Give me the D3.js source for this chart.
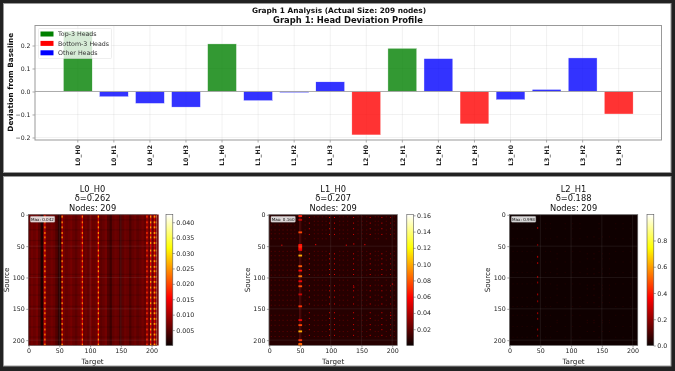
<!DOCTYPE html>
<html>
<head>
<meta charset="utf-8">
<script src="https://cdn.jsdelivr.net/npm/d3@7"></script>
<style>
  html, body { margin: 0; padding: 0; background: #222; overflow: hidden; }
  svg { display: block; filter: blur(0.5px); font-family: "DejaVu Sans", sans-serif; }
</style>
</head>
<body>
<script>
// bar chart values
const heads = ["L0_H0", "L0_H1", "L0_H2", "L0_H3", "L1_H0", "L1_H1", "L1_H2", "L1_H3",
               "L2_H0", "L2_H1", "L2_H2", "L2_H3", "L3_H0", "L3_H1", "L3_H2", "L3_H3"];
const deviations = [0.262, -0.023, -0.052, -0.068, 0.207, -0.040, -0.005, 0.042,
                    -0.189, 0.188, 0.143, -0.141, -0.036, 0.009, 0.146, -0.098];
const topHeads = ["L0_H0", "L1_H0", "L2_H1"];
const bottomHeads = ["L2_H0", "L2_H3", "L3_H3"];
const legendLabels = ["Top-3 Heads", "Bottom-3 Heads", "Other Heads"];
const devTicks = [-0.2, -0.1, 0.0, 0.1, 0.2];
const nodeTicks = [0, 50, 100, 150, 200];

// heatmap 1: one level for every 4 targets, then the bright columns and rows
const h0Bands = [.0055, .0065, .006, .0068, .005, .0012, .0065, .006, .0058, .0066, .006, .0045, .0022,
                 .0018, .0065, .0058, .0062, .0068, .0058, .0052, .0062, .0072, .0058, .0062, .0055, .0068,
                 .006, .0062, .0072, .0052, .0058, .0066, .0045, .0032, .0055, .0062, .0058, .0036, .0052,
                 .0062, .0058, .0042, .0056, .0062, .0052, .0058, .0066, .0056, .0078, .0056, .0068, .0062, .0066];
const h0HotCols = [[26, .0125], [54, .0125], [87, .0125], [113, .013], [192, .0095], [198, .014], [204, .013], [207, .011]];
const h0HotRows = [2, 11, 19, 28, 35, 44, 56, 64, 73, 82, 89, 98, 106, 115, 123, 131, 140, 149, 156, 165, 173, 182, 190, 198, 206];
const h0HotVals = [.024, .025, .023, .025, .019, .026, .026, .023];
const h0DimRows = [7, 23, 40, 52, 69, 94, 111, 127, 145, 161, 178, 194];

// heatmap 2: one strong column, weaker columns, scattered points
const h1Column = [[49, .014], [51, .014]];
const h1HotRows = [[1, .065], [7, .045], [27, .075], [47, .06], [49, .065], [51, .068], [53, .06], [55, .055], [64, .1], [81, .08],
                   [88, .06], [97, .085], [105, .055], [113, .075], [126, .045], [145, .07], [167, .055], [175, .075],
                   [185, .1], [199, .07], [205, .08], [207, .085]];
const h1SubCols = [[65, .058], [98, .064], [106, .06], [137, .058], [164, .055], [183, .058], [197, .04]];
const h1SubRows = [4, 13, 22, 31, 62, 70, 78, 87, 95, 113, 121, 131, 142, 156, 165, 175, 183, 192];
const h1TexCols = [3, 9, 16, 22, 29, 35, 41, 58, 73, 79, 86, 92, 114, 120, 127, 144, 151, 158, 172, 177, 190, 203];
const h1TexRows = [3, 10, 16, 24, 30, 38, 58, 65, 72, 80, 88, 96, 104, 112, 120, 128, 136, 144, 160, 168, 176, 186, 194];
const h1Points = [[20, 48], [75, 47], [125, 48], [137, 46], [155, 47], [137, 115], [200, 110], [197, 160]];

// heatmap 3: almost empty, a few dots around target 46
const h2HotRows = [[20, .2], [47, .15], [66, .22], [76, .2], [98, .2], [107, .18], [126, .2], [137, .18], [156, .2], [165, .17], [182, .2], [192, .15]];
const h2SubCols = [[77, .055], [126, .06], [137, .07], [151, .045], [162, .045]];
const h2SubRows = [35, 62, 70, 86, 94, 112, 118, 128, 140, 168, 172, 186];
const h2TexCols = [5, 12, 20, 28, 36, 58, 66, 90, 102, 114, 145, 172, 184, 196];
const h2TexRows = [14, 22, 38, 58, 75, 92, 110, 132, 146, 160, 178, 195];

const cbTicks0 = [0.005, 0.010, 0.015, 0.020, 0.025, 0.030, 0.035, 0.040];
const cbTicks1 = [0.02, 0.04, 0.06, 0.08, 0.10, 0.12, 0.14, 0.16];
const cbTicks2 = [0.0, 0.2, 0.4, 0.6, 0.8];

const width = 675;
const height = 371;
const ink = "#222";

const svg = d3.select("body").append("svg")
    .attr("width", width)
    .attr("height", height);

// dark page with two white panels
svg.append("rect").attr("width", width).attr("height", height).attr("fill", "#222");
svg.append("rect").attr("x", 3.5).attr("y", 3.5).attr("width", 667.5).attr("height", 169)
    .attr("fill", "#fff").attr("stroke", "#999");
svg.append("rect").attr("x", 3.5).attr("y", 176.5).attr("width", 667.5).attr("height", 189.5)
    .attr("fill", "#fff").attr("stroke", "#999");

svg.append("text").attr("x", 339).attr("y", 13)
    .attr("text-anchor", "middle").attr("font-weight", "bold").attr("font-size", 7.4).attr("fill", "#111")
    .text("Graph 1 Analysis (Actual Size: 209 nodes)");
svg.append("text").attr("x", 348).attr("y", 23)
    .attr("text-anchor", "middle").attr("font-weight", "bold").attr("font-size", 8.4).attr("fill", "#111")
    .text("Graph 1: Head Deviation Profile");

// ---------- bar chart ----------
const barLeft = 35, barRight = 661.5, barTop = 25.5, barBottom = 140;

const x = d3.scaleBand()
    .domain(heads)
    .range([barLeft, barRight])
    .paddingInner(0.2)
    .paddingOuter(0.787);

const y = d3.scaleLinear()
    .domain([-0.211, 0.287])
    .range([barBottom, barTop]);

const barColor = d => topHeads.includes(d) ? "green" : bottomHeads.includes(d) ? "red" : "blue";

const barGrid = svg.append("g").attr("stroke", "#b0b0b0").attr("stroke-opacity", 0.3).attr("stroke-width", 0.6);
barGrid.selectAll("line.v").data(heads).enter().append("line")
    .attr("x1", d => x(d) + x.bandwidth() / 2).attr("x2", d => x(d) + x.bandwidth() / 2)
    .attr("y1", barTop).attr("y2", barBottom);
barGrid.selectAll("line.h").data(devTicks).enter().append("line")
    .attr("x1", barLeft).attr("x2", barRight)
    .attr("y1", d => y(d)).attr("y2", d => y(d));

svg.selectAll("rect.bar")
    .data(heads)
    .enter()
    .append("rect")
    .attr("class", "bar")
    .attr("x", d => x(d))
    .attr("width", x.bandwidth())
    .attr("y", (d, i) => y(Math.max(0, deviations[i])))
    .attr("height", (d, i) => Math.abs(y(deviations[i]) - y(0)))
    .attr("fill", barColor)
    .attr("fill-opacity", 0.8)
    .attr("stroke", "#fff")
    .attr("stroke-width", 0.4);

svg.append("line").attr("x1", barLeft).attr("x2", barRight).attr("y1", y(0)).attr("y2", y(0))
    .attr("stroke", "#999").attr("stroke-width", 0.8);

const yAxisBar = svg.append("g")
    .attr("transform", `translate(${barLeft},0)`)
    .call(d3.axisLeft(y).tickValues(devTicks).tickSize(2.5).tickPadding(2)
        .tickFormat(d => d3.format(".1f")(d).replace("-", "\u2212")));
yAxisBar.selectAll("text").attr("font-size", 6.2).attr("fill", ink).attr("font-family", "DejaVu Sans");

const xAxisBar = svg.append("g")
    .attr("transform", `translate(0,${barBottom})`)
    .call(d3.axisBottom(x).tickSize(2.5));
xAxisBar.selectAll("text")
    .attr("font-size", 6.2).attr("font-weight", "bold").attr("fill", ink).attr("font-family", "DejaVu Sans")
    .attr("text-anchor", "end")
    .attr("transform", "rotate(-90)")
    .attr("x", -5)
    .attr("y", 0)
    .attr("dy", "0.35em");
[yAxisBar, xAxisBar].forEach(a => {
    a.select(".domain").remove();
    a.selectAll("line").attr("stroke", "#555").attr("stroke-width", 0.5);
});

svg.append("rect").attr("x", barLeft).attr("y", barTop)
    .attr("width", barRight - barLeft).attr("height", barBottom - barTop)
    .attr("fill", "none").attr("stroke", "#999").attr("stroke-width", 1);

svg.append("text")
    .attr("transform", `translate(12.5,${(barTop + barBottom) / 2 - 0.5}) rotate(-90)`)
    .attr("text-anchor", "middle").attr("font-weight", "bold").attr("font-size", 7.3).attr("fill", "#111")
    .text("Deviation from Baseline");

// legend
const legend = svg.append("g").attr("transform", "translate(38.5,28.5)");
legend.append("rect").attr("width", 73).attr("height", 30).attr("rx", 1)
    .attr("fill", "#fff").attr("fill-opacity", 0.8).attr("stroke", "#ddd").attr("stroke-width", 0.5);
legend.selectAll("rect.key").data(["green", "red", "blue"]).enter().append("rect")
    .attr("class", "key")
    .attr("x", 2).attr("y", (d, i) => 3 + i * 9.4)
    .attr("width", 13).attr("height", 5)
    .attr("fill", d => d);
legend.selectAll("text").data(legendLabels).enter().append("text")
    .attr("x", 19.5).attr("y", (d, i) => 7.8 + i * 9.4)
    .attr("font-size", 6.3).attr("fill", "#333")
    .text(d => d);

// ---------- heatmaps ----------
const hot = d3.scaleLinear()
    .domain([0, 0.365, 0.746, 1])
    .range(["#0b0000", "#ff0000", "#ffff00", "#ffffff"])
    .clamp(true);

function drawHeatmap(o) {
    const top = 214.5, bottom = 345.5;
    const hx = d3.scaleLinear().domain([-0.5, 208.5]).range([o.left, o.left + 128.5]);
    const hy = d3.scaleLinear().domain([-0.5, 208.5]).range([top, bottom]);
    const color = v => hot(v / o.max);
    const cw = hx(1) - hx(0);
    const ch = hy(1) - hy(0);
    const g = svg.append("g");

    const cell = (c, r, v, w = 1, h = 1) => g.append("rect")
        .attr("x", hx(c - 0.5)).attr("y", hy(r - 0.5))
        .attr("width", cw * w).attr("height", ch * h)
        .attr("fill", color(v));

    g.append("rect").attr("x", hx(-0.5)).attr("y", top)
        .attr("width", 128.5).attr("height", bottom - top)
        .attr("fill", color(o.base));

    (o.bands || []).forEach((v, i) => cell(i * 4, 0, v, 4, 209));
    (o.columns || []).forEach(d => cell(d[0], 0, d[1], 2, 209));
    (o.dimRows || []).forEach(r => g.append("rect")
        .attr("x", hx(-0.5)).attr("y", hy(r)).attr("width", 128.5).attr("height", ch * 2)
        .attr("fill", "#000").attr("fill-opacity", 0.13));
    (o.texCols || []).forEach(c => (o.texRows || []).forEach(r => cell(c, r, o.texVal, 2, 1.5)));
    (o.subCols || []).forEach(d => (o.subRows || []).forEach(r => cell(d[0], r, d[1], 1.5, 1.5)));
    (o.hotCols || []).forEach((d, i) => (o.hotRows || []).forEach(r => cell(d[0], r, o.hotVals[i], 2, 3)));
    (o.spots || []).forEach(d => cell(o.spotCol, d[0], d[1], o.spotW, 3));
    (o.points || []).forEach(d => cell(d[0], d[1], o.pointVal, 2, 2));

    // matplotlib grid on top of the image
    const grid = g.append("g").attr("stroke", "#b0b0b0").attr("stroke-opacity", 0.22).attr("stroke-width", 0.5);
    nodeTicks.forEach(t => {
        grid.append("line").attr("x1", hx(t)).attr("x2", hx(t)).attr("y1", top).attr("y2", bottom);
        grid.append("line").attr("x1", hx(-0.5)).attr("x2", hx(208.5)).attr("y1", hy(t)).attr("y2", hy(t));
    });

    g.append("rect").attr("x", hx(-0.5)).attr("y", top).attr("width", 128.5).attr("height", bottom - top)
        .attr("fill", "none").attr("stroke", "#777").attr("stroke-width", 0.6);

    const xa = svg.append("g").attr("transform", `translate(0,${bottom})`)
        .call(d3.axisBottom(hx).tickValues(nodeTicks).tickSize(2).tickPadding(1.5));
    const ya = svg.append("g").attr("transform", `translate(${o.left},0)`)
        .call(d3.axisLeft(hy).tickValues(nodeTicks).tickSize(2).tickPadding(1.5));
    [xa, ya].forEach(a => {
        a.select(".domain").remove();
        a.selectAll("line").attr("stroke", "#444").attr("stroke-width", 0.5);
        a.selectAll("text").attr("font-size", 6.3).attr("fill", ink).attr("font-family", "DejaVu Sans");
    });

    // title, axis names, max box
    const mid = o.left + 64.25;
    o.title.forEach((t, i) => svg.append("text")
        .attr("x", mid).attr("y", 191.5 + i * 9.7)
        .attr("text-anchor", "middle").attr("font-size", 8.3).attr("fill", "#111").text(t));
    svg.append("text").attr("x", mid).attr("y", 364)
        .attr("text-anchor", "middle").attr("font-size", 7.2).attr("fill", ink).text("Target");
    svg.append("text").attr("transform", `translate(${o.left - 19},${(top + bottom) / 2}) rotate(-90)`)
        .attr("text-anchor", "middle").attr("font-size", 7.2).attr("fill", ink).text("Source");

    svg.append("rect").attr("x", o.left + 2).attr("y", 216.3).attr("width", 24.5).attr("height", 6).attr("rx", 0.8)
        .attr("fill", "#fff").attr("fill-opacity", 0.85).attr("stroke", "#888").attr("stroke-width", 0.3);
    svg.append("text").attr("x", o.left + 14.2).attr("y", 220.8)
        .attr("text-anchor", "middle").attr("font-size", 4.1).attr("fill", "#111").text(o.note);

    // colorbar
    const cy = d3.scaleLinear().domain([0, o.max]).range([bottom, top]);
    const cbId = "cb" + Math.round(o.left);
    const grad = svg.append("defs").append("linearGradient").attr("id", cbId)
        .attr("x1", 0).attr("x2", 0).attr("y1", 1).attr("y2", 0);
    hot.domain().forEach(s => grad.append("stop")
        .attr("offset", s).attr("stop-color", hot(s)));
    svg.append("rect").attr("x", o.cb).attr("y", top).attr("width", 6.8).attr("height", bottom - top)
        .attr("fill", `url(#${cbId})`).attr("stroke", "#555").attr("stroke-width", 0.6);
    const ca = svg.append("g").attr("transform", `translate(${o.cb + 6.8},0)`)
        .call(d3.axisRight(cy).tickValues(o.cbTicks).tickSize(2).tickPadding(1.5).tickFormat(d3.format(o.cbFormat)));
    ca.select(".domain").remove();
    ca.selectAll("line").attr("stroke", "#444").attr("stroke-width", 0.5);
    ca.selectAll("text").attr("font-size", 6.3).attr("fill", ink).attr("font-family", "DejaVu Sans");
}

drawHeatmap({
    left: 28.3, cb: 166, max: 0.0425, base: 0.0055, note: "Max: 0.042",
    title: ["L0_H0", "\u03b4=0.262", "Nodes: 209"],
    bands: h0Bands, columns: h0HotCols, hotCols: h0HotCols, hotRows: h0HotRows, hotVals: h0HotVals, dimRows: h0DimRows,
    cbTicks: cbTicks0, cbFormat: ".3f"
});
drawHeatmap({
    left: 268.9, cb: 406.8, max: 0.161, base: 0.0065, note: "Max: 0.160",
    title: ["L1_H0", "\u03b4=0.207", "Nodes: 209"],
    columns: h1Column, texCols: h1TexCols, texRows: h1TexRows, texVal: 0.019,
    subCols: h1SubCols, subRows: h1SubRows,
    spotCol: 48, spotW: 6, spots: h1HotRows, points: h1Points, pointVal: 0.045,
    cbTicks: cbTicks1, cbFormat: ".2f"
});
drawHeatmap({
    left: 509.3, cb: 647, max: 0.998, base: 0.006, note: "Max: 0.998",
    title: ["L2_H1", "\u03b4=0.188", "Nodes: 209"],
    texCols: h2TexCols, texRows: h2TexRows, texVal: 0.035,
    subCols: h2SubCols, subRows: h2SubRows,
    spotCol: 45, spotW: 2, spots: h2HotRows,
    cbTicks: cbTicks2, cbFormat: ".1f"
});
</script>
</body>
</html>
